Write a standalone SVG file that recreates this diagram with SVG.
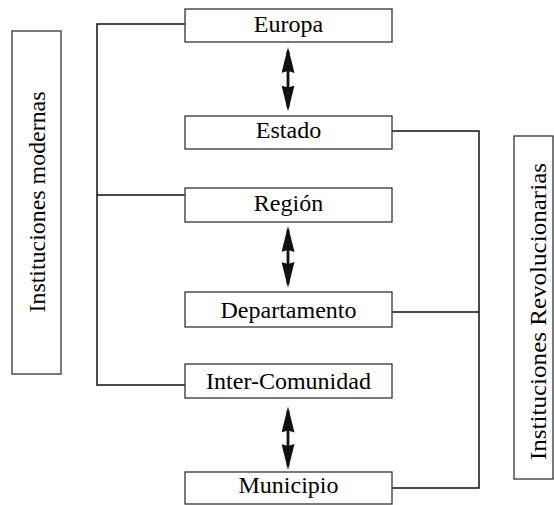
<svg xmlns="http://www.w3.org/2000/svg" width="554" height="505" viewBox="0 0 554 505">
<style>
.box{fill:#fff;stroke:#333;stroke-width:1.3}
.lbl{font-family:"Liberation Serif","Times New Roman",serif;font-size:24px;fill:#000;text-anchor:middle}
.conn{fill:none;stroke:#111;stroke-width:1.5}
.arr{fill:none;stroke:#111;stroke-width:2.8}
</style>
<defs>
<marker id="ah" viewBox="0 0 26 13" refX="22" refY="6.5" markerWidth="26" markerHeight="13" markerUnits="userSpaceOnUse" orient="auto-start-reverse">
<path d="M0,0 L26,6.5 L0,13 L2,6.5 Z" fill="#111"/>
</marker>
</defs>
<rect width="554" height="505" fill="#fff"/>
<g id="connectors">
<path class="conn" d="M185,24 H97 V385 H185 M97,195 H185"/>
<path class="conn" d="M392,131 H479 V488 H392 M392,312 H479"/>
<line class="arr" x1="288" y1="51" x2="288" y2="107.5" marker-start="url(#ah)" marker-end="url(#ah)"/>
<line class="arr" x1="288" y1="230" x2="288" y2="284" marker-start="url(#ah)" marker-end="url(#ah)"/>
<line class="arr" x1="288" y1="410.5" x2="288" y2="466" marker-start="url(#ah)" marker-end="url(#ah)"/>
</g>
<g id="modernas">
<rect class="box" x="12" y="31" width="49" height="343"/>
<text class="lbl" transform="translate(45,202) rotate(-90)" textLength="221" lengthAdjust="spacingAndGlyphs">Instituciones modernas</text>
</g>
<g id="revolucionarias">
<rect class="box" x="514" y="136" width="39" height="343"/>
<text class="lbl" transform="translate(546,311.5) rotate(-90)" textLength="297" lengthAdjust="spacingAndGlyphs">Instituciones Revolucionarias</text>
</g>
<g id="europa">
<rect class="box" x="185" y="9" width="207" height="33"/>
<text class="lbl" x="288.5" y="32.3">Europa</text>
</g>
<g id="estado">
<rect class="box" x="185" y="116" width="207" height="33"/>
<text class="lbl" x="288.5" y="138.3">Estado</text>
</g>
<g id="region">
<rect class="box" x="185" y="188" width="207" height="34"/>
<text class="lbl" x="288.5" y="210.7">Región</text>
</g>
<g id="departamento">
<rect class="box" x="185" y="292" width="207" height="35"/>
<text class="lbl" x="288.5" y="318.3">Departamento</text>
</g>
<g id="intercomunidad">
<rect class="box" x="185" y="364" width="207" height="34"/>
<text class="lbl" x="288.5" y="389.3">Inter-Comunidad</text>
</g>
<g id="municipio">
<rect class="box" x="185" y="472" width="207" height="32"/>
<text class="lbl" x="288.5" y="493.3">Municipio</text>
</g>
</svg>
